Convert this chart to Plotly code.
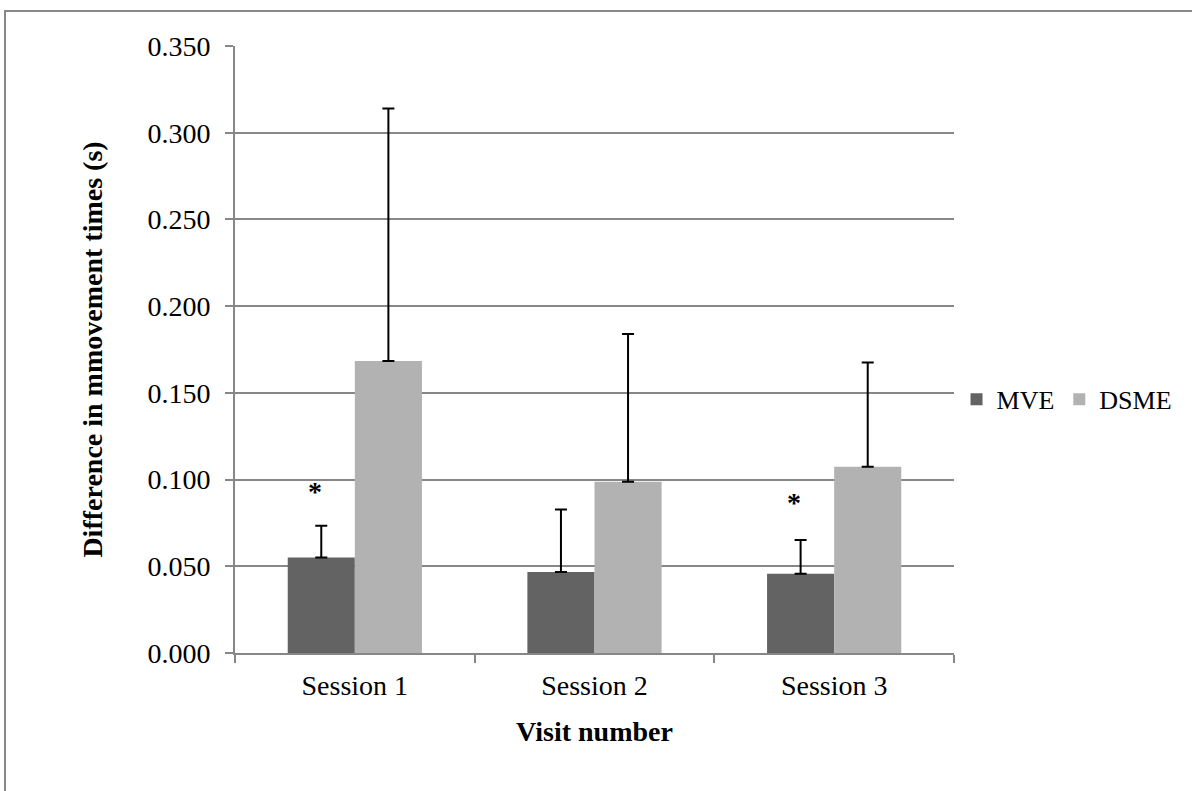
import plotly.graph_objects as go

categories = ["Session 1", "Session 2", "Session 3"]
mve = [0.0550, 0.0467, 0.0457]
mve_err = [0.0184, 0.0361, 0.0194]
dsme = [0.1684, 0.0988, 0.1074]
dsme_err = [0.1455, 0.0852, 0.0601]
star_cats = ["Session 1", "Session 3"]
star_y = [0.093, 0.0866]

FONT = "Liberation Serif, Times New Roman, serif"
GRID = "#878787"

fig = go.Figure()
fig.add_trace(go.Bar(
    name="MVE", x=categories, y=mve, marker=dict(color="#636363", line=dict(width=0)),
    error_y=dict(type="data", array=mve_err, symmetric=False, arrayminus=[0]*3,
                 color="black", thickness=2, width=6),
))
fig.add_trace(go.Bar(
    name="DSME", x=categories, y=dsme, marker=dict(color="#b2b2b2", line=dict(width=0)),
    error_y=dict(type="data", array=dsme_err, symmetric=False, arrayminus=[0]*3,
                 color="black", thickness=2, width=6),
))

for c, yv in zip(star_cats, star_y):
    fig.add_annotation(x=c, y=yv, text="<b>*</b>", showarrow=False, xshift=-40,
                       font=dict(family=FONT, size=28, color="black"),
                       xanchor="center", yanchor="middle")

fig.update_layout(
    width=1192, height=791,
    margin=dict(l=235, r=238, t=46, b=138),
    paper_bgcolor="white", plot_bgcolor="white",
    barmode="group", bargap=0.44, bargroupgap=0,
    font=dict(family=FONT, size=28, color="black"),
    showlegend=True,
    legend=dict(orientation="h", x=1.0035, y=0.418, xanchor="left", yanchor="middle",
                font=dict(family=FONT, size=26, color="black"),
                itemwidth=30, tracegroupgap=0, bgcolor="rgba(0,0,0,0)"),
)
fig.update_yaxes(
    range=[0, 0.35], dtick=0.05, tickformat=".3f",
    showgrid=True, gridcolor=GRID, gridwidth=2,
    showline=True, linecolor=GRID, linewidth=2,
    ticks="outside", ticklen=8, tickcolor=GRID, tickwidth=2,
    ticklabelstandoff=9, zeroline=False,
    tickfont=dict(family=FONT, size=28, color="black"),
    title=dict(text="<b>Difference in mmovement times (s)</b>", standoff=37,
               font=dict(family=FONT, size=28, color="black")),
)
fig.update_xaxes(
    type="category", showline=True, linecolor=GRID, linewidth=2,
    ticks="outside", tickson="boundaries", ticklen=8, tickcolor=GRID, tickwidth=2,
    showgrid=False, ticklabelstandoff=6,
    tickfont=dict(family=FONT, size=28, color="black"),
    title=dict(text="<b>Visit number</b>", standoff=22,
               font=dict(family=FONT, size=28, color="black")),
)
# outer chart border (top and left visible in the reference)
fig.add_shape(type="rect", xref="paper", yref="paper",
              x0=(5 - 235) / 719, x1=(1230 - 235) / 719,
              y0=(653 - 830) / 607, y1=(653 - 11) / 607,
              line=dict(color=GRID, width=2), fillcolor="rgba(0,0,0,0)", layer="below")

fig.write_html("out.html", config={"displayModeBar": False},
               post_script="document.body.style.margin='0';")
